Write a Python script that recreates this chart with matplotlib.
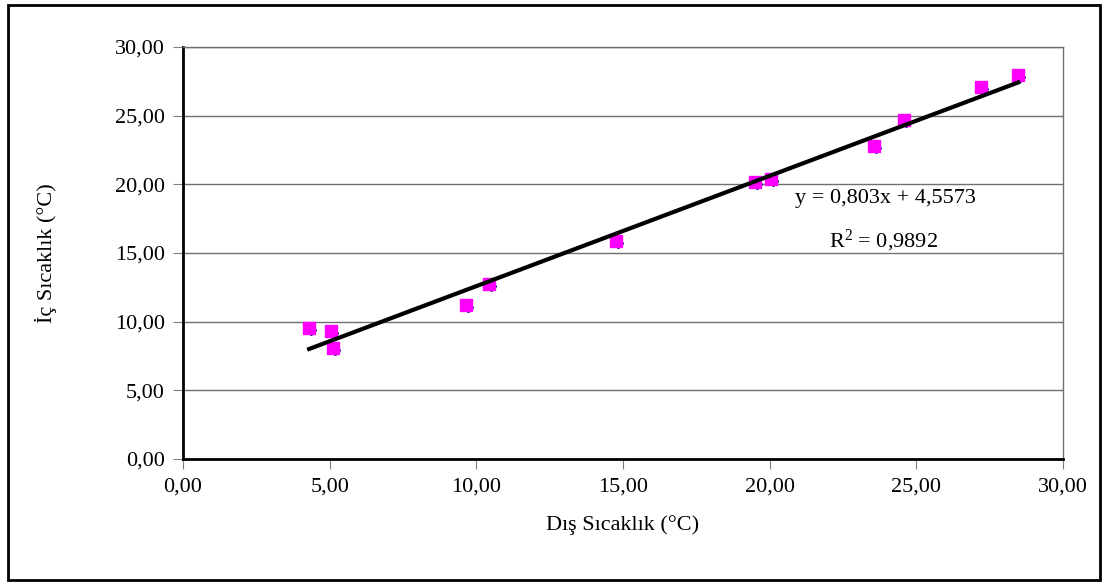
import matplotlib
matplotlib.use('Agg')
import matplotlib.pyplot as plt
import matplotlib.transforms as mtransforms
import numpy as np

#%% Data
dis = [4.30, 5.04, 5.11, 9.65, 10.43, 14.76, 19.50, 20.05, 23.56, 24.58, 27.20, 28.47]
ic = [9.54, 9.32, 8.08, 11.20, 12.75, 15.85, 20.17, 20.40, 22.80, 24.65, 27.10, 27.97]
slope = 0.803
intercept = 4.5573
r2 = 0.9892
ticks = [0, 5, 10, 15, 20, 25, 30]

def fmt(v):
    return ('%.2f' % v).replace('.', ',')

#%% Plot
plt.rcParams['font.family'] = ['Liberation Serif', 'DejaVu Serif']
plt.rcParams['mathtext.fontset'] = 'custom'
plt.rcParams['mathtext.rm'] = 'Liberation Serif'
plt.rcParams['mathtext.it'] = 'Liberation Serif'
fig = plt.figure(figsize=(11.07, 5.88), dpi=100)
ax = fig.add_axes([0.1653, 0.2194, 0.795, 0.7007])

# figure border
fig.patches.append(plt.Rectangle((0.007, 0.013), 0.987, 0.979, transform=fig.transFigure,
                                 fill=False, edgecolor='black', linewidth=2))

ax.set_xlim(0, 30)
ax.set_ylim(0, 30)
ax.set_xticks(ticks)
ax.set_yticks(ticks)
ax.set_xticklabels([fmt(t) for t in ticks])
ax.set_yticklabels([fmt(t) for t in ticks])
ax.yaxis.grid(True, color='#707070', linewidth=1)
ax.set_axisbelow(True)
ax.tick_params(direction='out', length=7, color='#808080', labelsize=16, pad=6)
for s in ['top', 'right']:
    ax.spines[s].set_color('#707070')
    ax.spines[s].set_linewidth(1)
ax.spines['left'].set_linewidth(2)
ax.spines['bottom'].set_linewidth(2)

# markers: magenta square, navy dot peeking out below-right
off = mtransforms.offset_copy(ax.transData, fig=fig, x=2, y=-2, units='dots')
ax.plot(dis, ic, 'D', color='#000080', markersize=5, linestyle='none', zorder=3, transform=off)
ax.plot(dis, ic, 's', color='#FF00FF', markersize=8.5, linestyle='none', zorder=4)

xl = np.array([min(dis), max(dis)])
ax.plot(xl, slope * xl + intercept, color='black', linewidth=3, zorder=5)

ax.text(23.93, 18.94, 'y = 0,803x + 4,5573', fontsize=16, va='center', ha='center')
ax.text(23.87, 15.9, r'R$^2$ = ' + ('%.4f' % r2).replace('.', ','),
        fontsize=16, va='center', ha='center')

ax.set_xlabel('Dış Sıcaklık (°C)', fontsize=16, labelpad=14)
ax.set_ylabel('İç Sıcaklık (°C)', fontsize=16, labelpad=42)

plt.savefig('out.png')
